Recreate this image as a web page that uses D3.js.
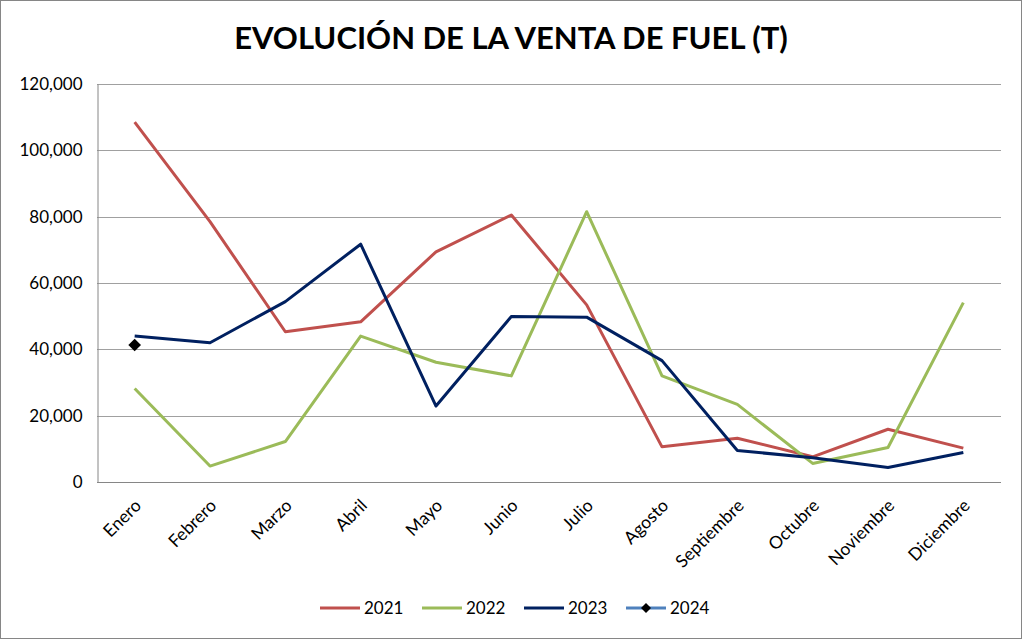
<!DOCTYPE html>
<html>
<head>
<meta charset="utf-8">
<script src="https://cdn.jsdelivr.net/npm/d3@7"></script>
<style>
  body { margin: 0; background: #fff; }
  text { font-family: Lato, "Open Sans", sans-serif; }
</style>
</head>
<body>
<svg width="1023" height="640"></svg>
<script>
// datos
const months = ["Enero", "Febrero", "Marzo", "Abril", "Mayo", "Junio", "Julio",
  "Agosto", "Septiembre", "Octubre", "Noviembre", "Diciembre"];
const years = ["2021", "2022", "2023", "2024"];
const v2021 = [108500, 78500, 45300, 48300, 69400, 80500, 53400, 10600, 13200, 7600, 15900, 10200];
const v2022 = [28200, 4800, 12200, 44000, 36100, 32000, 81500, 32000, 23400, 5600, 10400, 54100];
const v2023 = [44000, 42000, 54400, 71700, 22900, 49900, 49700, 36600, 9500, 7300, 4400, 8900];
const v2024 = [41300];
const yTicks = [0, 20000, 40000, 60000, 80000, 100000, 120000];

const colors = { "2021": "#C0504D", "2022": "#9BBB59", "2023": "#002060", "2024": "#4F81BD" };
const series = [
  { name: "2021", values: v2021 },
  { name: "2022", values: v2022 },
  { name: "2023", values: v2023 },
  { name: "2024", values: v2024 }
];

const svg = d3.select("svg");

// borde exterior
svg.append("rect")
  .attr("x", 0.5).attr("y", 0.5)
  .attr("width", 1021).attr("height", 638)
  .attr("fill", "#fff").attr("stroke", "#868686");

const m = { left: 97, right: 1001, top: 84, bottom: 482 };

const x = d3.scalePoint().domain(months).range([m.left, m.right]).padding(0.5);
const y = d3.scaleLinear().domain([0, 120000]).range([m.bottom, m.top]);

// título
svg.append("text")
  .attr("x", 511).attr("y", 49)
  .attr("text-anchor", "middle")
  .attr("font-size", 31).attr("font-weight", "bold")
  .text("EVOLUCIÓN DE LA VENTA DE FUEL (T)");

// rejilla
svg.append("g").selectAll("line")
  .data(yTicks)
  .join("line")
  .attr("x1", m.left).attr("x2", m.right)
  .attr("y1", d => Math.round(y(d)) + 0.5).attr("y2", d => Math.round(y(d)) + 0.5)
  .attr("stroke", "#a0a0a0");

// eje y
const yAxis = svg.append("g")
  .attr("transform", `translate(${m.left + 0.5},0)`)
  .call(d3.axisLeft(y).tickValues(yTicks).tickSize(0).tickPadding(15)
    .tickFormat(d3.format(",")));
yAxis.select(".domain").attr("stroke", "#868686");
yAxis.selectAll("text").attr("font-size", 17).attr("fill", "#000");

// eje x
const xAxis = svg.append("g")
  .attr("transform", `translate(0,${m.bottom + 0.5})`)
  .call(d3.axisBottom(x).tickSize(0).tickSizeOuter(0));
xAxis.select(".domain").attr("stroke", "#868686")
  .attr("d", `M${m.left},0H${m.right}`);
xAxis.selectAll("text")
  .attr("font-size", 17.5).attr("fill", "#000")
  .attr("text-anchor", "end")
  .attr("dy", 0)
  .attr("transform", "translate(5,22) rotate(-45)");

// líneas
const line = d3.line()
  .x((d, i) => x(months[i]))
  .y(d => y(d));

svg.append("g").selectAll("path")
  .data(series)
  .join("path")
  .attr("d", d => line(d.values))
  .attr("fill", "none")
  .attr("stroke", d => colors[d.name])
  .attr("stroke-width", 3)
  .attr("stroke-linejoin", "round");

// marcador 2024
svg.append("g").selectAll("path")
  .data(v2024)
  .join("path")
  .attr("d", d3.symbol().type(d3.symbolSquare).size(80))
  .attr("transform", (d, i) => `translate(${x(months[i])},${y(d)}) rotate(45)`)
  .attr("fill", "#000");

// leyenda
const legend = svg.append("g").attr("transform", "translate(320,608)");
const item = legend.selectAll("g")
  .data(years)
  .join("g")
  .attr("transform", (d, i) => `translate(${i * 102},0)`);
item.append("line")
  .attr("x1", 0).attr("x2", 40)
  .attr("stroke", d => colors[d]).attr("stroke-width", 3);
item.filter(d => d === "2024").append("path")
  .attr("d", d3.symbol().type(d3.symbolSquare).size(50))
  .attr("transform", "translate(20,0) rotate(45)")
  .attr("fill", "#000");
item.append("text")
  .attr("x", 44).attr("dy", "0.35em")
  .attr("font-size", 17)
  .text(d => d);
</script>
</body>
</html>
